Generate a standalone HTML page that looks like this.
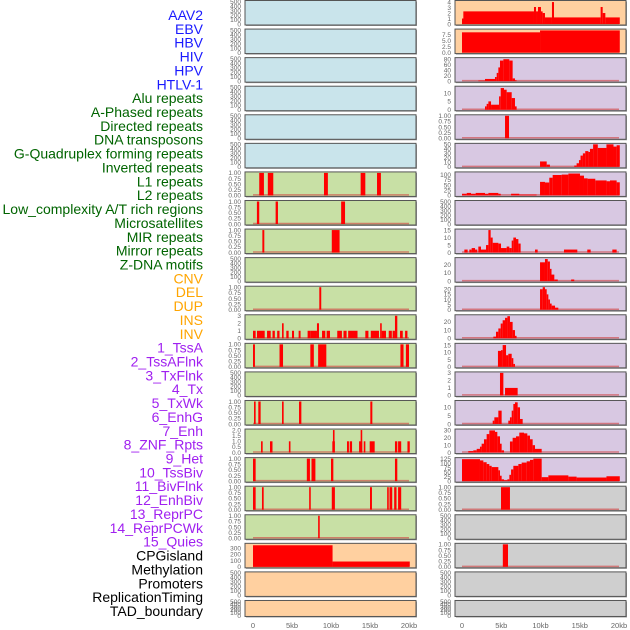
<!DOCTYPE html>
<html><head><meta charset="utf-8"><style>
body{margin:0;background:#fff;width:630px;height:630px;overflow:hidden}
svg{display:block}
.lab{font-family:"Liberation Sans",sans-serif;font-size:14px}
.tk{font-family:"Liberation Sans",sans-serif;font-size:6.5px;fill:#666}
.xt{font-family:"Liberation Sans",sans-serif;font-size:7.5px;fill:#666}
</style></head><body>
<svg id="chart" width="630" height="630"></svg>
<script>
const labels=["AAV2","EBV","HBV","HIV","HPV","HTLV-1","Alu repeats","A-Phased repeats","Directed repeats","DNA transposons","G-Quadruplex forming repeats","Inverted repeats","L1 repeats","L2 repeats","Low_complexity A/T rich regions","Microsatellites","MIR repeats","Mirror repeats","Z-DNA motifs","CNV","DEL","DUP","INS","INV","1_TssA","2_TssAFlnk","3_TxFlnk","4_Tx","5_TxWk","6_EnhG","7_Enh","8_ZNF_Rpts","9_Het","10_TssBiv","11_BivFlnk","12_EnhBiv","13_ReprPC","14_ReprPCWk","15_Quies","CPGisland","Methylation","Promoters","ReplicationTiming","TAD_boundary"];
const labelColors=["#1a1aff","#1a1aff","#1a1aff","#1a1aff","#1a1aff","#1a1aff","#006400","#006400","#006400","#006400","#006400","#006400","#006400","#006400","#006400","#006400","#006400","#006400","#006400","#ffa500","#ffa500","#ffa500","#ffa500","#ffa500","#a020f0","#a020f0","#a020f0","#a020f0","#a020f0","#a020f0","#a020f0","#a020f0","#a020f0","#a020f0","#a020f0","#a020f0","#a020f0","#a020f0","#a020f0","#000","#000","#000","#000","#000"];
const xTicks=[0,5,10,15,20];
const xTickLabels=["0","5kb","10kb","15kb","20kb"];
const B=["#c9e4eb"],G="#c8e0a5",O="#ffd0a0",P="#d8c8e2",Y="#cfcfcf",BL="#c9e4eb";
const leftBg=[BL,BL,BL,BL,BL,BL,G,G,G,G,G,G,G,G,G,G,G,G,G,O,O,O];
const rightBg=[O,O,P,P,P,P,P,P,P,P,P,P,P,P,P,P,P,Y,Y,Y,Y,Y];
const E=[500,[0,100,200,300,400,500]];
const ONE=[1,[0,0.25,0.5,0.75,1]];
const leftAxes=[E,E,E,E,E,E,ONE,ONE,ONE,E,ONE,[3,[0,1,2,3]],ONE,E,ONE,[2,[0,0.5,1,1.5,2]],ONE,ONE,ONE,[360,[0,100,200,300]],E,E];
const rightAxes=[[4.1,[0,1,2,3,4]],[9.5,[0,2.5,5,7.5]],[82,[0,20,40,60,80]],[13.5,[0,5,10]],ONE,[50,[0,10,20,30,40,50]],[108,[0,25,50,75,100]],E,[15,[0,5,10,15]],[27.5,[0,10,20]],[22,[0,5,10,15,20]],[27.5,[0,10,20]],[15.5,[0,5,10,15]],[3,[0,1,2,3]],[13.5,[0,5,10]],[30.5,[0,10,20,30]],[125,[0,25,50,75,100,125]],ONE,E,ONE,E,E];
const leftSegs=[[],[],[],[],[],[],
[[0.8,1.4,1],[1.9,2.6,1],[9.1,9.6,1],[13.8,14.4,1],[15.9,16.4,1]],
[[0.5,0.8,1],[2.9,3.2,1],[11.3,11.8,1]],
[[1.2,1.45,1],[10.1,11.1,1]],
[],
[[8.5,8.75,1]],
[[0,0.34,1],[0.51,1.5,1],[1.8,2.27,1],[2.5,2.8,1],[3.1,3.4,1],[3.72,3.93,2],[4.27,4.57,1],[5.0,5.26,1],[5.85,6.1,1],[7.0,7.4,1],[7.4,8.2,1],[8.2,8.46,2],[8.85,9.27,1],[9.44,9.87,1],[10.8,11.4,1],[11.6,12.0,1],[12.2,13.4,1],[14.4,14.8,1],[15.1,16.15,1],[16.3,16.5,2],[16.5,17.05,1],[17.4,17.8,1],[17.9,18.2,1],[18.2,18.5,3],[18.85,19.2,1],[19.5,19.8,1]],
[[0,0.25,1],[3.4,3.85,1],[7.35,7.8,1],[8.35,9.4,1],[18.9,19.3,1],[19.6,20,1]],
[],
[[0.13,0.34,1],[0.68,0.98,1],[3.72,3.93,1],[5.9,6.2,1],[15.04,15.3,1]],
[[1.03,1.24,1],[2.18,2.5,1],[4.6,4.8,1],[10.17,10.5,1],[10.25,10.45,2],[12.05,12.3,1],[12.4,12.7,1],[13.6,14.0,1],[13.8,14.0,2],[14.2,14.4,1],[14.96,15.6,1],[18.2,18.5,1],[18.6,19.0,1],[19.8,20.1,1]],
[[0,0.34,1],[6.9,7.3,1],[7.5,8.0,1],[10.0,10.3,1],[18.2,18.5,1]],
[[0,0.34,1],[1.15,1.37,1],[7.2,7.4,1],[10.1,10.5,1],[15.0,15.25,1],[17.2,17.4,1],[17.5,17.85,1],[18.1,18.4,1],[18.6,19.0,1]],
[[8.35,8.55,1]],
[[0,10.2,345],[10.2,20.1,85]],
[],[]];
const rightSegs=[
[[0,0.17,1],[0.17,9.17,2.3],[9.17,9.43,3.1],[9.43,9.68,2.3],[9.68,10.06,3.1],[10.06,10.27,2.3],[10.27,10.57,2],[10.57,11.46,1.2],[11.46,11.72,4],[11.72,17.66,1.2],[17.66,17.92,3.1],[17.92,18.26,2],[18.26,20.1,1.2]],
[[0,9.94,8.55],[9.94,20.1,9.35]],
[[2.08,2.93,2],[2.93,4.2,8],[4.2,4.42,15],[4.42,4.63,30],[4.63,4.84,50],[4.84,5.27,75],[5.27,6.03,80],[6.03,6.45,75],[6.45,6.75,10],[6.75,6.88,3]],
[[2.93,3.14,2],[3.14,3.36,3.5],[3.36,3.7,5],[3.7,4.72,3],[4.72,4.93,8],[4.93,5.35,13],[5.35,5.69,12],[5.69,6.33,10.5],[6.33,6.75,7],[6.75,6.96,2]],
[[5.48,5.99,1]],
[[9.94,10.79,12],[10.79,11.2,5],[14.3,14.6,3],[14.6,14.9,8],[14.9,15.1,15],[15.1,15.4,25],[15.4,15.7,30],[15.7,16.1,35],[16.1,16.3,33],[16.3,16.7,40],[16.7,17.3,50],[17.3,18.4,42],[18.4,19.3,50],[19.3,19.7,45],[19.7,20.1,48]],
[[0,0.6,8],[0.6,1.15,12],[1.15,1.74,8],[1.74,2.93,12],[2.93,3.36,8],[3.36,4.63,12],[4.63,4.93,8],[6.25,7.3,8],[7.3,9.5,4],[9.94,10.57,65],[10.57,11.12,62],[11.12,11.55,85],[11.55,12.7,98],[12.7,13.55,100],[13.55,15.03,105],[15.03,15.54,95],[15.54,16.0,82],[16.0,16.98,80],[16.98,18.42,72],[18.42,18.85,68],[18.85,19.7,72],[19.7,20.1,63]],
[],
[[0.3,0.72,2],[0.93,1.23,2],[1.23,1.66,3],[1.66,1.95,2],[2.08,2.42,4],[2.42,3.06,2],[3.06,3.36,5],[3.36,3.65,15],[3.65,3.91,10],[3.91,4.63,6.5],[4.63,4.97,6],[4.97,5.69,3],[5.69,6.03,4],[6.03,6.33,3],[6.33,6.54,8],[6.54,6.88,10],[6.88,7.18,9],[7.18,7.47,6],[9.3,9.64,2],[12.99,14.69,2],[15.96,16.39,2],[19.15,19.7,2]],
[[9.94,10.57,23],[10.57,10.92,27],[10.92,11.2,24],[11.2,11.4,15],[11.4,11.76,8],[11.76,12.2,2],[13.9,14.3,2]],
[[9.94,10.28,20],[10.28,10.57,22],[10.57,10.79,20],[10.79,11.0,15],[11.0,11.2,10],[11.2,11.42,6],[11.42,11.85,4],[11.85,12.27,2]],
[[3.99,4.33,2],[4.33,4.63,8],[4.63,4.93,12],[4.93,5.18,18],[5.18,5.48,22],[5.48,5.78,25],[5.78,6.11,27],[6.11,6.45,20],[6.45,6.75,10],[6.75,6.88,3]],
[[4.58,4.97,11],[4.97,5.18,11.5],[5.18,5.61,15],[5.61,5.9,8],[5.9,6.33,9],[6.33,6.54,6],[6.54,6.75,2]],
[[4.84,5.27,3],[5.48,7.09,1]],
[[3.91,4.12,2],[4.12,4.63,4],[4.63,5.05,8],[5.9,6.11,2],[6.11,6.33,4],[6.33,6.54,8],[6.54,6.75,12],[6.75,7.09,13],[7.09,7.39,10],[7.39,7.73,3]],
[[0.8,1.44,2],[1.44,1.87,3],[1.87,2.29,5],[2.29,2.5,8],[2.5,2.8,12],[2.8,3.14,18],[3.14,3.48,25],[3.48,4.2,30],[4.2,4.5,28],[4.5,4.84,22],[4.84,5.05,12],[5.05,5.35,3],[6.11,6.45,15],[6.45,6.88,20],[6.88,7.3,22],[7.3,7.9,27],[7.9,8.32,26],[8.32,8.66,23],[8.66,9.0,18],[9.0,9.3,10],[9.3,10.15,5]],
[[0,2.29,122],[2.29,2.72,115],[2.72,3.14,105],[3.14,3.48,95],[3.48,3.78,85],[3.78,4.63,78],[4.63,4.84,60],[4.84,5.05,30],[5.05,5.35,10],[5.35,5.78,5],[5.78,6.03,10],[6.03,6.25,35],[6.25,6.54,65],[6.54,7.18,85],[7.18,7.6,95],[7.6,8.24,103],[8.24,8.66,110],[8.66,9.09,118],[9.09,10.15,125],[10.15,11.0,22],[11.0,13.55,32],[13.55,14.6,25],[14.6,18.4,20],[18.4,20.1,27]],
[[4.97,6.11,1]],
[],
[[5.2,5.86,1]],
[],[]];

const NS="http://www.w3.org/2000/svg";
const svg=document.getElementById('chart');
function mk(t,a,p){const e=document.createElementNS(NS,t);for(const k in a)e.setAttribute(k,a[k]);(p||svg).appendChild(e);return e;}
function fmt(v,ticks){const dec=ticks.some(t=>t%1!==0);if(dec){return ticks.some(t=>(t*100)%10!==0)?v.toFixed(2):v.toFixed(1);}return String(v);}

// labels
labels.forEach((s,i)=>{
  const t=mk('text',{x:203,y:15+i*13.86+5,'text-anchor':'end',fill:labelColors[i],class:'lab'});
  t.textContent=s;
  
  
});

function column(x0,x1,zeroX,twentyX,bgs,axes,segs,side){
  const xs=kb=>zeroX+kb*(twentyX-zeroX)/20;
  for(let i=0;i<22;i++){
    const top=0.5+i*28.57, h=(i===21)?16:24.5;
    const g=mk('g',{});
    
    
    mk('rect',{x:x0+1,y:top+1,width:x1-x0,height:h,fill:'#999'},g);
    mk('rect',{x:x0,y:top,width:x1-x0,height:h,fill:bgs[i],stroke:'#555','stroke-width':1},g);
    const [ymax,ticks]=axes[i];
    const y0=top+h-1, yt=top+1;
    const ys=v=>y0-(v/ymax)*(y0-yt);
    ticks.forEach(tv=>{
      const t=mk('text',{x:x0-4,y:ys(tv)+2.3,'text-anchor':'end',class:'tk'},g);
      t.textContent=fmt(tv,ticks);
    });
    const sg=segs[i];
    if(sg.length){
      const bl=mk('line',{x1:xs(0),x2:xs(20),y1:y0-0.5,y2:y0-0.5,stroke:'#d04040','stroke-opacity':0.6,'stroke-width':1.5},g);
      
      
    }
    sg.forEach(s=>{
      const xa=xs(s[0]),xb=xs(s[1]);
      const r=mk('rect',{x:xa,y:ys(s[2]),width:Math.max(1.6,xb-xa),height:y0-ys(s[2]),fill:'#ff0000'},g);
      
      
    });
  }
  xTicks.forEach((v,k)=>{
    const t=mk('text',{x:xs(v),y:628,'text-anchor':'middle',class:'xt'});
    t.textContent=xTickLabels[k];
    
    
  });
}
column(245,416,253,409,leftBg,leftAxes,leftSegs,'left');
column(455,626,462,619,rightBg,rightAxes,rightSegs,'right');
</script>
</body></html>
